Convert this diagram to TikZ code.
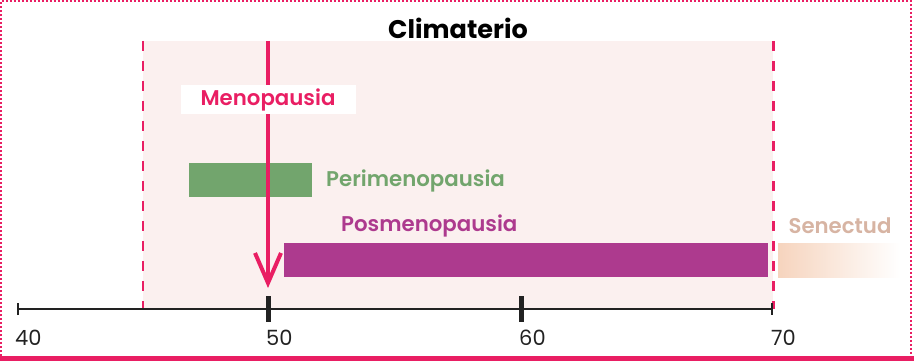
\documentclass[tikz,border=0pt]{standalone}
\usepackage{fontspec}
\setmainfont{Poppins}
\newfontfamily\semibold{Poppins SemiBold}
\usetikzlibrary{arrows.meta,positioning}
\definecolor{climapink}{RGB}{233,30,99}
\definecolor{climashade}{RGB}{251,240,239}
\definecolor{perigreen}{RGB}{114,165,109}
\definecolor{pospurple}{RGB}{173,58,142}
\definecolor{sentext}{RGB}{215,180,163}
\definecolor{senfill}{RGB}{246,212,190}
\definecolor{axisgray}{RGB}{34,34,34}
\tikzset{
	bar/.style={draw=none, inner sep=0pt, minimum height=34pt, anchor=north west},
	barlabel/.style={inner sep=0pt, font=\semibold\fontsize{21.3}{23}\selectfont},
	agelabel/.style={inner sep=0pt, anchor=west, text=axisgray, font=\fontsize{21}{23}\selectfont},
	bigtick/.style={line width=5pt, draw=axisgray}
}
\begin{document}
\begin{tikzpicture}[x=1pt, y=-1pt]
				\useasboundingbox (0,0) rectangle (914,361);
				\node[bar, fill=climashade, minimum width=630pt, minimum height=268pt] (clima) at (143,41) {};
				\draw[climapink, line width=2.5pt, dash pattern=on 10pt off 10pt] (clima.north west) -- (clima.south west);
				\draw[climapink, line width=2.5pt, dash pattern=on 10pt off 10pt] (clima.north east) -- (clima.south east);
				\node[font=\bfseries\fontsize{25.5}{27}\selectfont] (climatitle) at (458,28) {Climaterio};
				\node[bar, fill=perigreen, minimum width=123pt] (peri) at (189,163) {};
				\node[bar, fill=pospurple, minimum width=484pt] (pos) at (284,243) {};
				\node[bar, left color=senfill, right color=white, minimum width=122pt] (sen) at (778,243) {};
				\node[barlabel, anchor=west, text=perigreen] (perilabel) at (326,181) {Perimenopausia};
				\node[barlabel, anchor=west, text=pospurple] (poslabel) at (341,226) {Posmenopausia};
				\node[barlabel, text=sentext] (senlabel) at (840,226) {Senectud};
				\coordinate (arrtop) at (268,41);
				\coordinate (arrtip) at (268,288);
				\draw[climapink, line width=4pt, -{Straight Barb[length=30pt, width=26pt]}] (arrtop) -- (arrtip);
				\node[fill=white, minimum width=175pt, minimum height=29pt, inner sep=0pt, text=climapink, font=\semibold\fontsize{21.3}{23}\selectfont] (meno) at (268,100) {Menopausia};
				\foreach \v/\x in {40/17, 50/268, 60/521, 70/773} {
					\coordinate (t\v) at (\x,309);
					\node[agelabel] (l\v) at (\x-2,338) {\v};
				}
				\draw[axisgray, line width=2pt, {Bar[width=12pt]}-{Bar[width=12pt]}] (t40) -- (t70);
				\draw[bigtick] ([yshift=13pt]t50) -- ([yshift=-13pt]t50);
				\draw[bigtick] ([yshift=13pt]t60) -- ([yshift=-13pt]t60);
				\coordinate (framebl) at (1,356);
				\coordinate (frametl) at (1,1);
				\coordinate (frametr) at (911,1);
				\coordinate (framebr) at (911,356);
				\draw[climapink, line width=2pt, dash pattern=on 2pt off 2pt] (framebl) -- (frametl) -- (frametr) -- (framebr);
				\coordinate (baseleft) at (0,358.5);
				\coordinate (baseright) at (914,358.5);
				\draw[climapink, line width=5pt] (baseleft) -- (baseright);
			\end{tikzpicture}
\end{document}
